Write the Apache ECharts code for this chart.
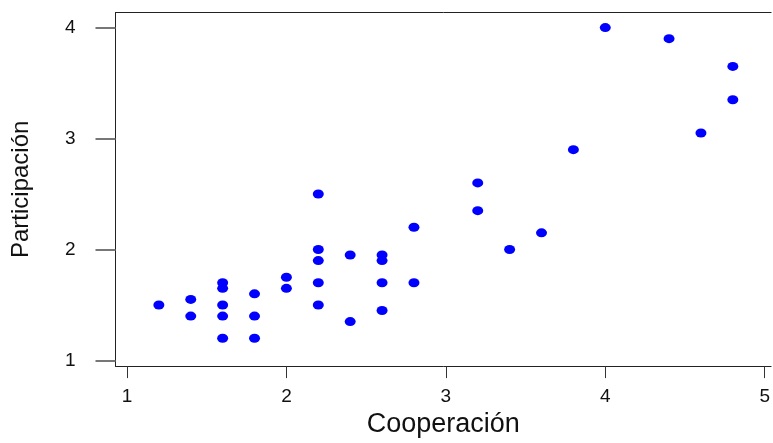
<!DOCTYPE html>
<html lang="es" style="height: 100%">
    <head>
        <meta charset="utf-8">
        <title>Cooperación vs Participación</title>
    </head>
    <body style="height: 100%; margin: 0; background: #fff">
        <div id="container" style="width: 773px; height: 443px"></div>
        <script src="https://cdn.jsdelivr.net/npm/echarts@6/dist/echarts.min.js"></script>
        <script>
            // valores
            let cooperacion = [
                1.2, 1.4, 1.4,
                1.6, 1.6, 1.6, 1.6, 1.6,
                1.8, 1.8, 1.8,
                2.0, 2.0,
                2.2, 2.2, 2.2, 2.2, 2.2,
                2.4, 2.4,
                2.6, 2.6, 2.6, 2.6,
                2.8, 2.8,
                3.2, 3.2, 3.4, 3.6, 3.8,
                4.0, 4.4, 4.6, 4.8, 4.8
            ];
            let participacion = [
                1.5, 1.55, 1.4,
                1.7, 1.65, 1.5, 1.4, 1.2,
                1.6, 1.4, 1.2,
                1.75, 1.65,
                2.5, 2.0, 1.9, 1.7, 1.5,
                1.95, 1.35,
                1.95, 1.9, 1.7, 1.45,
                2.2, 1.7,
                2.6, 2.35, 2.0, 2.15, 2.9,
                4.0, 3.9, 3.05, 3.65, 3.35
            ];
            let xTicks = [1, 2, 3, 4, 5];
            let yTicks = [1, 2, 3, 4];

            let points = [];
            for (let i = 0; i < cooperacion.length; i++) {
                points.push([cooperacion[i], participacion[i]]);
            }

            let chart = echarts.init(document.getElementById("container"), null, { renderer: "canvas" });
            let font = "Liberation Sans";
            // la caja sigue mas alla del borde derecho, asi que no hay linea a la derecha
            let xMin = 0.928;
            let xMax = 5.04;

            let option = {
                backgroundColor: "#fff",
                animation: false,
                grid: {
                    left: 115.5,
                    right: 0,
                    top: 12.5,
                    bottom: 74,
                    show: false
                },
                xAxis: [
                    {
                        type: "value",
                        min: xMin,
                        max: xMax,
                        name: "Cooperación",
                        nameLocation: "middle",
                        nameGap: 44,
                        nameTextStyle: { fontFamily: font, fontSize: 27, color: "#111" },
                        axisLine: { show: true, lineStyle: { color: "#222", width: 1 } },
                        axisTick: { show: true, customValues: xTicks, length: 12, lineStyle: { color: "#333", width: 1 } },
                        axisLabel: { customValues: xTicks, margin: 21, fontFamily: font, fontSize: 19, color: "#111" },
                        splitLine: { show: false }
                    },
                    {
                        type: "value",
                        position: "top",
                        min: xMin,
                        max: xMax,
                        axisLine: { show: true, lineStyle: { color: "#222", width: 1 } },
                        axisTick: { show: false },
                        axisLabel: { show: false },
                        splitLine: { show: false }
                    }
                ],
                yAxis: {
                    type: "value",
                    min: 0.949,
                    max: 4.136,
                    name: "Participación",
                    nameLocation: "middle",
                    nameGap: 82,
                    nameTextStyle: { fontFamily: font, fontSize: 24, color: "#111" },
                    axisLine: { show: true, lineStyle: { color: "#222", width: 1 } },
                    axisTick: { show: true, customValues: yTicks, length: 20, lineStyle: { color: "#777", width: 2 } },
                    axisLabel: { customValues: yTicks, margin: 40, fontFamily: font, fontSize: 19, color: "#111" },
                    splitLine: { show: false }
                },
                series: [
                    {
                        type: "scatter",
                        data: points,
                        symbol: "circle",
                        symbolSize: [11, 9],
                        itemStyle: { color: "#0000ff", opacity: 1 }
                    }
                ]
            };

            chart.setOption(option);
        </script>
    </body>
</html>
